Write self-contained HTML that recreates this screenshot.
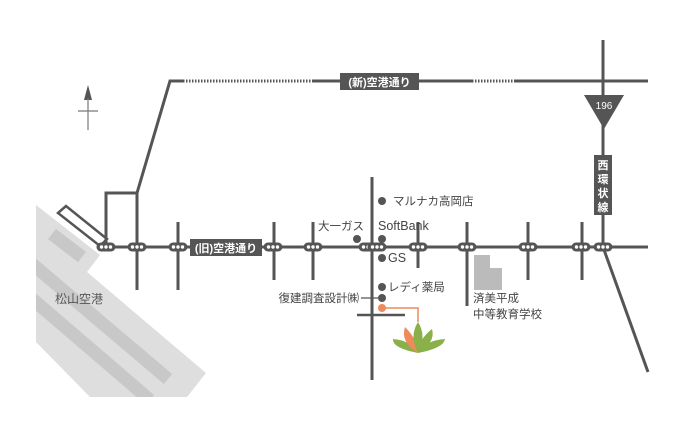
<!DOCTYPE html>
<html><head><meta charset="utf-8"><style>
html,body{margin:0;padding:0;background:#fff;}
svg{display:block;font-family:"Liberation Sans","Noto Sans CJK JP",sans-serif;}
</style></head><body>
<svg width="700" height="421" viewBox="0 0 700 421" xmlns="http://www.w3.org/2000/svg">
<defs>
<g id="m"><rect x="-9.5" y="-4.5" width="19" height="9" rx="4.5" fill="#555"/><circle cx="-4.5" cy="0" r="1.7" fill="#fff"/><circle cx="0" cy="0" r="1.7" fill="#fff"/><circle cx="4.5" cy="0" r="1.7" fill="#fff"/></g>
<clipPath id="ap"><polygon points="36,205 100,255 87,272 206,373 187,397 90,397 36,342"/></clipPath>
</defs>
<!-- airport -->
<polygon points="36,205 100,255 87,272 206,373 187,397 90,397 36,342" fill="#dedede"/>
<g clip-path="url(#ap)">
<line x1="52" y1="234" x2="82" y2="257" stroke="#c8c8c8" stroke-width="13"/>
<line x1="30" y1="262" x2="168" y2="379" stroke="#c8c8c8" stroke-width="13"/>
<line x1="30" y1="297" x2="150" y2="400" stroke="#c8c8c8" stroke-width="13"/>
</g>
<polygon points="58,213 66,206 107,239 100,246" fill="#fff" stroke="#555" stroke-width="2.5"/>
<text x="55" y="303" font-size="12" fill="#555">松山空港</text>
<!-- north arrow -->
<polygon points="88,85 84,100 92,100" fill="#555"/>
<line x1="88" y1="98" x2="88" y2="130" stroke="#777" stroke-width="1.2"/>
<line x1="78" y1="111" x2="98" y2="111" stroke="#777" stroke-width="1.2"/>
<!-- roads -->
<g stroke="#555" fill="none">
<polyline points="106,247 106,193 137,193 170,81 183,81" stroke-width="3"/>
<line x1="183" y1="81" x2="313" y2="81" stroke-width="3" stroke-dasharray="1.5,1.5"/>
<line x1="313" y1="81" x2="472" y2="81" stroke-width="3"/>
<line x1="472" y1="81" x2="514" y2="81" stroke-width="3" stroke-dasharray="1.5,1.5"/>
<line x1="514" y1="81" x2="648" y2="81" stroke-width="3"/>
<line x1="603" y1="40" x2="603" y2="247" stroke-width="3"/>
<line x1="603" y1="247" x2="648" y2="372" stroke-width="3"/>
<line x1="98" y1="247" x2="648" y2="247" stroke-width="3"/>
<line x1="137" y1="193" x2="137" y2="290" stroke-width="3"/>
<line x1="178" y1="222" x2="178" y2="290" stroke-width="3"/>
<line x1="274" y1="222" x2="274" y2="280" stroke-width="3"/>
<line x1="313" y1="222" x2="313" y2="280" stroke-width="3"/>
<line x1="372" y1="177" x2="372" y2="380" stroke-width="3"/>
<line x1="418" y1="222" x2="418" y2="268" stroke-width="3"/>
<line x1="467" y1="222" x2="467" y2="306" stroke-width="3"/>
<line x1="528" y1="222" x2="528" y2="280" stroke-width="3"/>
<line x1="582" y1="222" x2="582" y2="280" stroke-width="3"/>
<line x1="357" y1="315" x2="405" y2="315" stroke-width="2.5"/>
<line x1="361" y1="298" x2="378" y2="298" stroke-width="1.2"/>
</g>
<!-- markers -->
<use href="#m" x="106" y="247"/><use href="#m" x="137" y="247"/><use href="#m" x="178" y="247"/>
<use href="#m" x="273" y="247"/><use href="#m" x="313" y="247"/><use href="#m" x="368" y="247"/><use href="#m" x="377" y="247"/>
<use href="#m" x="418" y="247"/><use href="#m" x="467" y="247"/><use href="#m" x="528" y="247"/>
<use href="#m" x="581" y="247"/><use href="#m" x="603" y="247"/>
<!-- labels on roads -->
<rect x="190" y="239" width="72" height="17" fill="#555"/>
<text x="226" y="252" font-size="11" font-weight="bold" fill="#fff" text-anchor="middle">(旧)空港通り</text>
<rect x="340" y="73" width="79" height="17" fill="#555"/>
<text x="379.5" y="86" font-size="11" font-weight="bold" fill="#fff" text-anchor="middle">(新)空港通り</text>
<polygon points="584,95 624,95 604,129" fill="#555"/>
<text x="604" y="109" font-size="10" fill="#fff" text-anchor="middle">196</text>
<rect x="594" y="155" width="18" height="60" fill="#555"/>
<g font-size="11" font-weight="bold" fill="#fff" text-anchor="middle">
<text x="603" y="169">西</text><text x="603" y="183">環</text><text x="603" y="197">状</text><text x="603" y="211">線</text>
</g>
<!-- places -->
<g fill="#555">
<circle cx="382" cy="201" r="4"/><circle cx="357" cy="239" r="4"/><circle cx="382" cy="239" r="4"/>
<circle cx="382" cy="258" r="4"/><circle cx="382" cy="287" r="4"/><circle cx="382" cy="298" r="4"/>
</g>
<g font-size="11.5" fill="#444">
<text x="393" y="205">マルナカ高岡店</text>
<text x="318" y="230">大一ガス</text>
<text x="378" y="230" font-size="12.5">SoftBank</text>
<text x="388" y="262" font-size="12.5">GS</text>
<text x="388" y="291">レディ薬局</text>
<text x="359" y="302" text-anchor="end">復建調査設計㈱</text>
<text x="473" y="302">済美平成</text>
<text x="473" y="318">中等教育学校</text>
</g>
<polygon points="474,255 490,255 490,268 502,268 502,290 474,290" fill="#bbb"/>
<!-- orange -->
<circle cx="382" cy="308" r="4" fill="#ef8a5a"/>
<polyline points="382,308 418,308 418,322" fill="none" stroke="#ef8a5a" stroke-width="1.5"/>
<!-- logo -->
<g>
<path d="M418,353 Q392,348 393,339 Q410,340 418,353Z" fill="#8ab04a"/>
<path d="M418,353 Q444,348 445,339 Q426,340 418,353Z" fill="#8ab04a"/>
<path d="M418,353 Q400,342 405,327 Q418,340 418,353Z" fill="#ef8a5a"/>
<path d="M418,353 Q436,342 432,329 Q418,340 418,353Z" fill="#8ab04a"/>
<path d="M418,353 Q409,336 418,322 Q427,336 418,353Z" fill="#8ab04a"/>
</g>
</svg>
</body></html>
